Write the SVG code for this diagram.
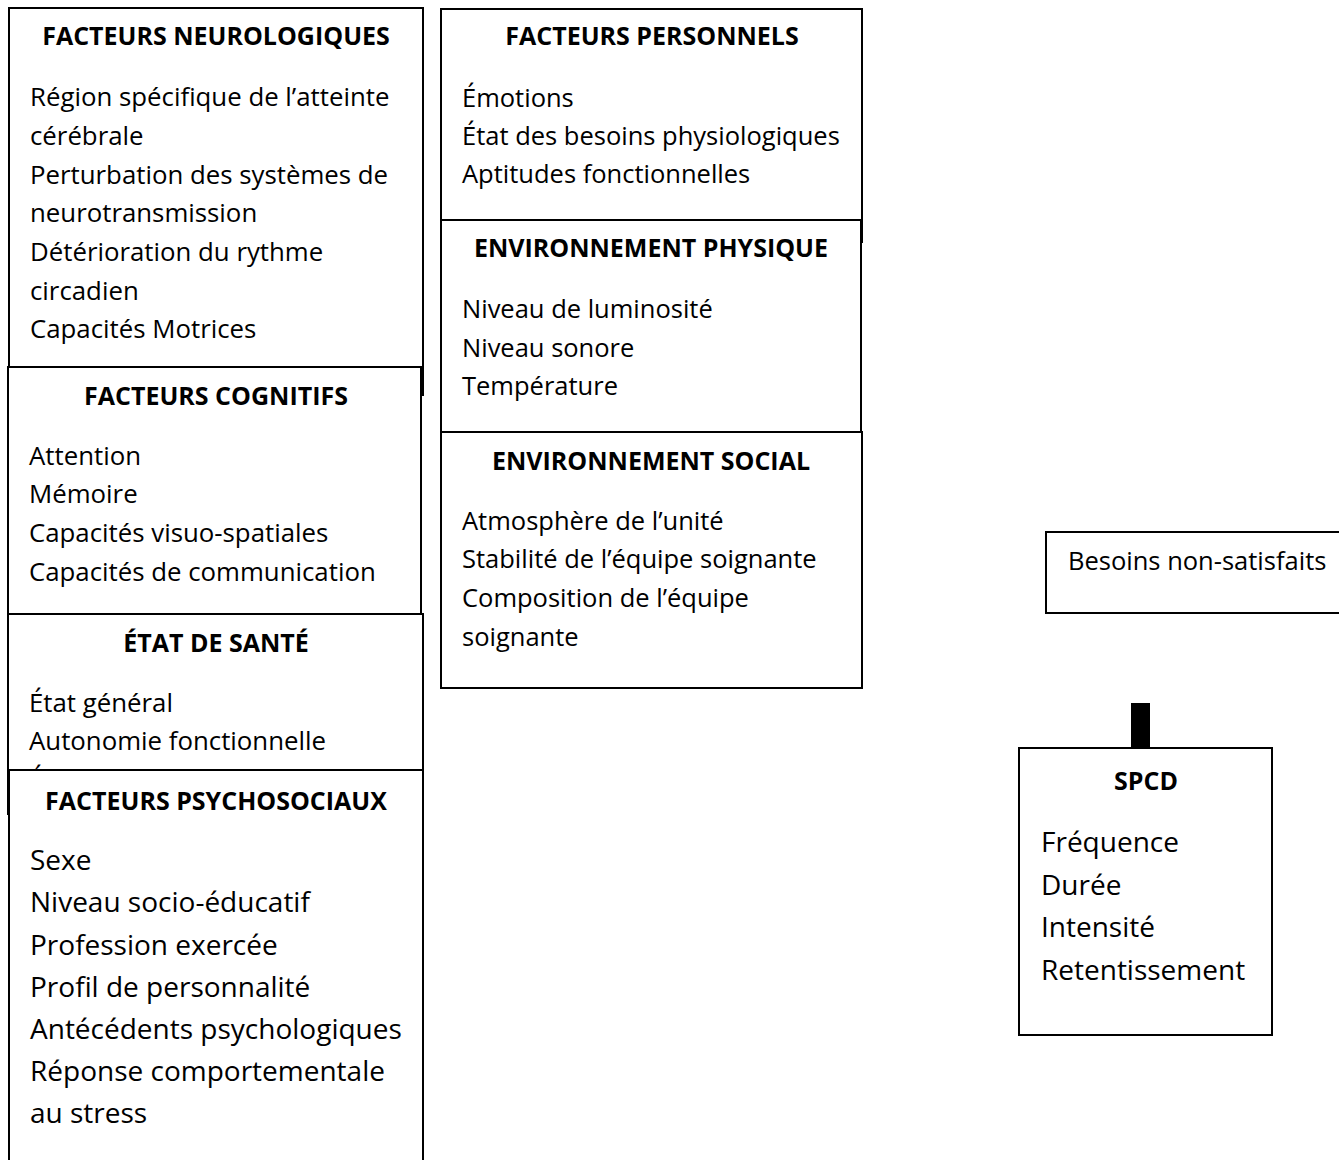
<svg xmlns="http://www.w3.org/2000/svg" width="1339" height="1160" viewBox="0 0 1339 1160">
<style>
.box{fill:#fff;stroke:#000;stroke-width:2}
text{font-family:"Open Sans","Noto Sans","Liberation Sans",sans-serif;fill:#000}
.h{font-weight:bold;font-size:25px;text-anchor:middle}
.b{font-size:25.8px}
.s{font-size:25.5px}
.bl{font-size:28px}
.conn{stroke:#000;stroke-width:19;fill:none}
</style>
<rect width="1339" height="1160" fill="#fff"/>
<g id="facteurs-neurologiques">
<rect class="box" x="9" y="8" width="414" height="387"/>
<text class="h" x="216" y="45">FACTEURS NEUROLOGIQUES</text>
<text class="b" x="30" y="106">Région spécifique de l’atteinte</text>
<text class="b" x="30" y="145">cérébrale</text>
<text class="b" x="30" y="184">Perturbation des systèmes de</text>
<text class="b" x="30" y="222">neurotransmission</text>
<text class="b" x="30" y="261">Détérioration du rythme</text>
<text class="b" x="30" y="300">circadien</text>
<text class="b" x="30" y="338">Capacités Motrices</text>
</g>
<g id="facteurs-cognitifs">
<rect class="box" x="8" y="367" width="413" height="257"/>
<text class="h" x="216" y="405">FACTEURS COGNITIFS</text>
<text class="b" x="29" y="465">Attention</text>
<text class="b" x="29" y="503">Mémoire</text>
<text class="b" x="29" y="542">Capacités visuo-spatiales</text>
<text class="b" x="29" y="581">Capacités de communication</text>
</g>
<g id="etat-de-sante">
<rect class="box" x="8" y="614" width="415" height="200"/>
<text class="h" x="216" y="652">ÉTAT DE SANTÉ</text>
<text class="b" x="29" y="712">État général</text>
<text class="b" x="29" y="750">Autonomie fonctionnelle</text>
<text class="b" x="29" y="789">É</text>
</g>
<g id="facteurs-psychosociaux">
<rect class="box" x="9" y="770" width="414" height="400"/>
<text class="h" x="216" y="810">FACTEURS PSYCHOSOCIAUX</text>
<text class="bl" x="30" y="870">Sexe</text>
<text class="bl" x="30" y="912">Niveau socio-éducatif</text>
<text class="bl" x="30" y="955">Profession exercée</text>
<text class="bl" x="30" y="997">Profil de personnalité</text>
<text class="bl" x="30" y="1039">Antécédents psychologiques</text>
<text class="bl" x="30" y="1081">Réponse comportementale</text>
<text class="bl" x="30" y="1123">au stress</text>
</g>
<g id="facteurs-personnels">
<rect class="box" x="441" y="9" width="421" height="233"/>
<text class="h" x="652" y="45">FACTEURS PERSONNELS</text>
<text class="s" x="462" y="107">Émotions</text>
<text class="s" x="462" y="145">État des besoins physiologiques</text>
<text class="s" x="462" y="183">Aptitudes fonctionnelles</text>
</g>
<g id="environnement-physique">
<rect class="box" x="441" y="220" width="420" height="230"/>
<text class="h" x="651" y="257">ENVIRONNEMENT PHYSIQUE</text>
<text class="s" x="462" y="318">Niveau de luminosité</text>
<text class="s" x="462" y="357">Niveau sonore</text>
<text class="s" x="462" y="395">Température</text>
</g>
<g id="environnement-social">
<rect class="box" x="441" y="432" width="421" height="256"/>
<text class="h" x="651" y="470">ENVIRONNEMENT SOCIAL</text>
<text class="s" x="462" y="530">Atmosphère de l’unité</text>
<text class="s" x="462" y="568">Stabilité de l’équipe soignante</text>
<text class="s" x="462" y="607">Composition de l’équipe</text>
<text class="s" x="462" y="646">soignante</text>
</g>
<g id="besoins-non-satisfaits">
<rect class="box" x="1046" y="532" width="300" height="81"/>
<text class="s" x="1068" y="570">Besoins non-satisfaits</text>
</g>
<g id="connectors">
<line class="conn" x1="1140.5" y1="703" x2="1140.5" y2="748"/>
</g>
<g id="spcd">
<rect class="box" x="1019" y="748" width="253" height="287"/>
<text class="h" x="1146" y="790">SPCD</text>
<text class="bl" x="1041" y="852">Fréquence</text>
<text class="bl" x="1041" y="895">Durée</text>
<text class="bl" x="1041" y="937">Intensité</text>
<text class="bl" x="1041" y="980">Retentissement</text>
</g>
</svg>
